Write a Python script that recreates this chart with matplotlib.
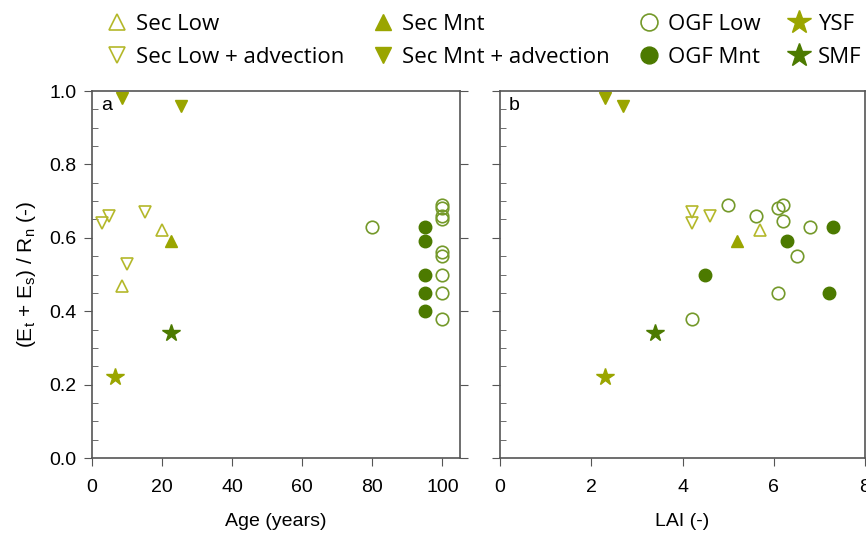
import matplotlib
matplotlib.use("Agg")
import matplotlib.pyplot as plt
from matplotlib.ticker import MultipleLocator

# ---- data ----
# panel a: Age (years)
sec_low_age = [8.5, 20]
sec_low_age_y = [0.47, 0.62]
sec_low_adv_age = [3, 5, 15, 10]
sec_low_adv_age_y = [0.64, 0.66, 0.67, 0.53]
sec_mnt_age = [22.5]
sec_mnt_age_y = [0.59]
sec_mnt_adv_age = [8.5, 25.5]
sec_mnt_adv_age_y = [0.98, 0.96]
ogf_low_age = [80, 100, 100, 100, 100, 100, 100, 100, 100, 100]
ogf_low_age_y = [0.63, 0.69, 0.68, 0.66, 0.65, 0.56, 0.55, 0.50, 0.45, 0.38]
ogf_mnt_age = [95, 95, 95, 95, 95]
ogf_mnt_age_y = [0.63, 0.59, 0.50, 0.45, 0.40]
ysf_age = [6.5]
ysf_age_y = [0.22]
smf_age = [22.5]
smf_age_y = [0.34]

# panel b: LAI (-)
sec_low_lai = [5.7]
sec_low_lai_y = [0.62]
sec_low_adv_lai = [4.2, 4.2, 4.6]
sec_low_adv_lai_y = [0.67, 0.64, 0.66]
sec_mnt_lai = [5.2]
sec_mnt_lai_y = [0.59]
sec_mnt_adv_lai = [2.3, 2.7]
sec_mnt_adv_lai_y = [0.98, 0.96]
ogf_low_lai = [5.0, 6.1, 6.2, 5.6, 6.2, 6.8, 6.5, 6.1, 4.2]
ogf_low_lai_y = [0.69, 0.68, 0.69, 0.66, 0.645, 0.63, 0.55, 0.45, 0.38]
ogf_mnt_lai = [4.5, 6.3, 7.3, 7.2]
ogf_mnt_lai_y = [0.50, 0.59, 0.63, 0.45]
ysf_lai = [2.3]
ysf_lai_y = [0.22]
smf_lai = [3.4]
smf_lai_y = [0.34]

light = "#b4b82a"
olive = "#9aa500"
ogf_open = "#74992a"
dark = "#4c7a00"

plt.rcParams["font.family"] = ["Liberation Sans", "DejaVu Sans"]

fig = plt.figure(figsize=(8.66, 5.37), dpi=100)
ax1 = fig.add_axes([0.1062, 0.1471, 0.4250, 0.6834])
ax2 = fig.add_axes([0.5774, 0.1471, 0.4215, 0.6834])


def draw(ax, d):
    h = []
    h += ax.plot(d[0][0], d[0][1], "^", ls="none", ms=9, mfc="none", mec=light, mew=1.2, label="Sec Low")
    h += ax.plot(d[1][0], d[1][1], "v", ls="none", ms=9, mfc="none", mec=light, mew=1.2, label="Sec Low + advection")
    h += ax.plot(d[2][0], d[2][1], "^", ls="none", ms=9, mfc=olive, mec=olive, label="Sec Mnt")
    h += ax.plot(d[3][0], d[3][1], "v", ls="none", ms=9, mfc=olive, mec=olive, label="Sec Mnt + advection")
    h += ax.plot(d[4][0], d[4][1], "o", ls="none", ms=9, mfc="none", mec=ogf_open, mew=1.2, label="OGF Low")
    h += ax.plot(d[5][0], d[5][1], "o", ls="none", ms=9, mfc=dark, mec=dark, label="OGF Mnt")
    h += ax.plot(d[6][0], d[6][1], "*", ls="none", ms=13, mfc=olive, mec=olive, label="YSF")
    h += ax.plot(d[7][0], d[7][1], "*", ls="none", ms=13, mfc=dark, mec=dark, label="SMF")
    for s in ax.spines.values():
        s.set_color("#555555")
        s.set_linewidth(1.2)
    ax.set_ylim(0, 1.0)
    ax.yaxis.set_major_locator(MultipleLocator(0.2))
    ax.yaxis.set_minor_locator(MultipleLocator(0.05))
    ax.tick_params(axis="y", which="minor", direction="in", length=4, color="#555555")
    ax.tick_params(axis="y", which="major", direction="out", length=6, color="#555555", labelsize=14, pad=5)
    ax.tick_params(axis="x", which="major", direction="out", length=6, color="#555555", labelsize=14, pad=9)
    return h


handles = draw(ax1, [(sec_low_age, sec_low_age_y), (sec_low_adv_age, sec_low_adv_age_y),
                     (sec_mnt_age, sec_mnt_age_y), (sec_mnt_adv_age, sec_mnt_adv_age_y),
                     (ogf_low_age, ogf_low_age_y), (ogf_mnt_age, ogf_mnt_age_y),
                     (ysf_age, ysf_age_y), (smf_age, smf_age_y)])
draw(ax2, [(sec_low_lai, sec_low_lai_y), (sec_low_adv_lai, sec_low_adv_lai_y),
           (sec_mnt_lai, sec_mnt_lai_y), (sec_mnt_adv_lai, sec_mnt_adv_lai_y),
           (ogf_low_lai, ogf_low_lai_y), (ogf_mnt_lai, ogf_mnt_lai_y),
           (ysf_lai, ysf_lai_y), (smf_lai, smf_lai_y)])

ax1.set_xlim(0, 105)
ax1.xaxis.set_major_locator(MultipleLocator(20))
ax1.set_yticks([0, 0.2, 0.4, 0.6, 0.8, 1.0])
ax1.set_yticklabels(["0.0", "0.2", "0.4", "0.6", "0.8", "1.0"])
ax1.tick_params(axis="y", which="major", right=True)
ax1.set_xlabel("Age (years)", fontsize=14, labelpad=12)
ax1.set_ylabel(r"(E$_\mathregular{t}$ + E$_\mathregular{s}$) / R$_\mathregular{n}$ (-)", fontsize=15, labelpad=8)
ax1.text(0.025, 0.985, "a", transform=ax1.transAxes, fontsize=14, va="top", ha="left")

ax2.set_xlim(0, 8)
ax2.xaxis.set_major_locator(MultipleLocator(2))
ax2.tick_params(axis="y", which="major", labelleft=False)
ax2.set_xlabel("LAI (-)", fontsize=14, labelpad=12)
ax2.text(0.025, 0.985, "b", transform=ax2.transAxes, fontsize=14, va="top", ha="left")

fig.legend(handles=handles, ncol=4, loc="upper left", bbox_to_anchor=(0.107, 0.999),
           frameon=False, prop={"family": "Open Sans", "size": 16},
           handletextpad=0.35, columnspacing=1.25, handlelength=1.0, labelspacing=0.55,
           borderaxespad=0.2, markerscale=1.35)

fig.savefig("out.png", dpi=100)
